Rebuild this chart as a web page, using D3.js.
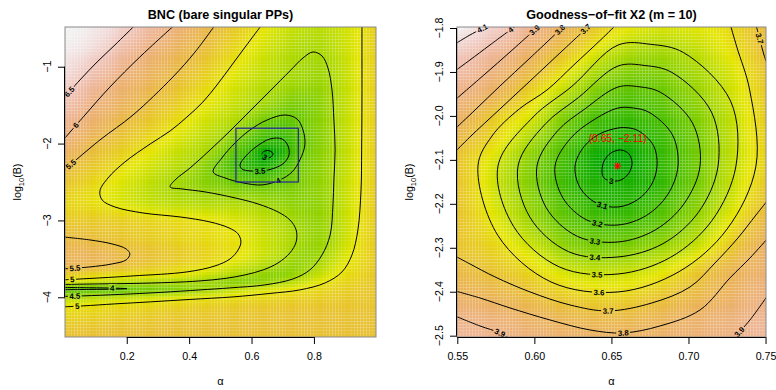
<!DOCTYPE html>
<html>
<head>
<meta charset="utf-8">
<script src="https://cdn.jsdelivr.net/npm/d3@7/dist/d3.min.js"></script>
<style>
  html, body { margin: 0; padding: 0; background: #ffffff; }
  svg { display: block; font-family: "Liberation Sans", Arial, Helvetica, sans-serif; }
</style>
</head>
<body>
<svg id="chart" width="776" height="390"></svg>
<script>
// ================= BNC (bare singular PPs) =================
// surface values: rows follow bncLogB, columns follow bncAlpha
const bncAlpha = [0.00, 0.05, 0.10, 0.15, 0.20, 0.25, 0.30, 0.35, 0.40, 0.45, 0.50,
                  0.55, 0.60, 0.65, 0.70, 0.75, 0.80, 0.85, 0.90, 0.95, 1.00];
const bncLogB = [-0.5, -0.75, -1.0, -1.25, -1.5, -1.75, -2.0, -2.125, -2.25, -2.5, -2.75,
                 -3.0, -3.25, -3.5, -3.6, -3.7, -3.8, -3.9, -4.0, -4.1, -4.25, -4.5];
const bncValues = [
  [6.95, 6.92, 6.85, 6.74, 6.57, 6.37, 6.18, 5.98, 5.79, 5.60, 5.42, 5.25, 5.09, 4.93, 4.80, 4.70, 4.64, 4.68, 4.80, 4.98, 5.22],
  [6.90, 6.84, 6.72, 6.52, 6.31, 6.11, 5.92, 5.76, 5.60, 5.44, 5.27, 5.11, 4.95, 4.80, 4.67, 4.57, 4.53, 4.60, 4.77, 4.98, 5.22],
  [6.80, 6.65, 6.47, 6.27, 6.05, 5.89, 5.73, 5.58, 5.43, 5.27, 5.11, 4.96, 4.82, 4.70, 4.58, 4.50, 4.45, 4.52, 4.72, 4.97, 5.22],
  [6.65, 6.43, 6.21, 6.00, 5.85, 5.70, 5.56, 5.41, 5.26, 5.11, 4.97, 4.83, 4.70, 4.59, 4.48, 4.40, 4.37, 4.48, 4.70, 4.96, 5.22],
  [6.42, 6.20, 5.98, 5.83, 5.67, 5.51, 5.37, 5.24, 5.10, 4.96, 4.83, 4.70, 4.55, 4.40, 4.20, 4.13, 4.22, 4.43, 4.69, 4.96, 5.22],
  [6.17, 5.96, 5.79, 5.61, 5.45, 5.32, 5.18, 5.05, 4.92, 4.78, 4.65, 4.51, 4.22, 3.95, 3.85, 3.98, 4.21, 4.42, 4.69, 4.96, 5.22],
  [5.93, 5.72, 5.51, 5.37, 5.24, 5.11, 4.98, 4.85, 4.72, 4.60, 4.41, 4.03, 3.72, 3.42, 3.40, 3.84, 4.16, 4.40, 4.68, 4.96, 5.22],
  [5.77, 5.60, 5.41, 5.27, 5.14, 5.00, 4.88, 4.75, 4.63, 4.51, 4.20, 3.84, 3.49, 2.95, 3.31, 3.89, 4.19, 4.42, 4.68, 4.96, 5.22],
  [5.62, 5.44, 5.31, 5.17, 5.03, 4.91, 4.79, 4.67, 4.55, 4.32, 4.01, 3.65, 3.35, 3.20, 3.57, 3.99, 4.21, 4.43, 4.68, 4.96, 5.22],
  [5.35, 5.23, 5.10, 4.98, 4.86, 4.75, 4.63, 4.52, 4.39, 4.27, 4.15, 4.02, 3.92, 3.92, 4.01, 4.16, 4.29, 4.45, 4.72, 4.99, 5.23],
  [5.15, 5.09, 5.02, 4.93, 4.84, 4.75, 4.68, 4.62, 4.58, 4.55, 4.53, 4.51, 4.47, 4.39, 4.32, 4.28, 4.30, 4.45, 4.72, 5.00, 5.24],
  [5.28, 5.27, 5.25, 5.22, 5.18, 5.14, 5.10, 5.06, 5.03, 4.98, 4.93, 4.86, 4.77, 4.66, 4.55, 4.42, 4.35, 4.47, 4.74, 5.01, 5.24],
  [5.52, 5.50, 5.45, 5.38, 5.32, 5.27, 5.22, 5.17, 5.12, 5.08, 5.04, 5.00, 4.87, 4.74, 4.62, 4.49, 4.38, 4.49, 4.76, 5.03, 5.25],
  [5.68, 5.68, 5.65, 5.58, 5.49, 5.42, 5.34, 5.27, 5.20, 5.13, 5.05, 4.95, 4.82, 4.68, 4.54, 4.38, 4.41, 4.63, 4.90, 5.08, 5.27],
  [5.58, 5.56, 5.52, 5.45, 5.37, 5.30, 5.22, 5.15, 5.08, 5.01, 4.90, 4.78, 4.66, 4.54, 4.42, 4.37, 4.50, 4.74, 4.97, 5.10, 5.28],
  [5.28, 5.22, 5.15, 5.09, 5.04, 5.02, 5.01, 4.98, 4.90, 4.81, 4.69, 4.57, 4.45, 4.33, 4.30, 4.42, 4.63, 4.85, 5.04, 5.14, 5.30],
  [4.85, 4.80, 4.74, 4.69, 4.64, 4.60, 4.57, 4.54, 4.51, 4.45, 4.35, 4.28, 4.30, 4.40, 4.53, 4.70, 4.87, 5.02, 5.12, 5.20, 5.32],
  [3.96, 3.96, 3.97, 3.98, 4.01, 4.08, 4.16, 4.25, 4.35, 4.45, 4.57, 4.70, 4.80, 4.87, 4.94, 5.00, 5.08, 5.15, 5.21, 5.26, 5.33],
  [4.55, 4.55, 4.60, 4.64, 4.69, 4.74, 4.80, 4.85, 4.90, 4.94, 4.98, 5.01, 5.05, 5.09, 5.13, 5.17, 5.20, 5.23, 5.26, 5.29, 5.33],
  [4.92, 4.95, 4.98, 5.01, 5.04, 5.07, 5.10, 5.13, 5.16, 5.18, 5.20, 5.22, 5.24, 5.26, 5.28, 5.29, 5.30, 5.31, 5.32, 5.33, 5.35],
  [5.15, 5.17, 5.19, 5.21, 5.23, 5.25, 5.27, 5.29, 5.30, 5.31, 5.32, 5.33, 5.34, 5.35, 5.36, 5.36, 5.37, 5.37, 5.37, 5.37, 5.38],
  [5.40, 5.41, 5.42, 5.42, 5.42, 5.42, 5.42, 5.42, 5.42, 5.42, 5.42, 5.42, 5.42, 5.42, 5.42, 5.41, 5.41, 5.40, 5.40, 5.40, 5.40]
];
// contour lines, [alpha, log10(B)] vertices
const bncContours = [
  { level: 6.5, closed: false, points: [[-0.005, -1.424], [0.050, -1.172], [0.105, -0.938], [0.162, -0.717], [0.224, -0.47]] },
  { level: 6, closed: false, points: [[-0.005, -1.96], [0.066, -1.628], [0.146, -1.264], [0.242, -0.873], [0.350, -0.47]] },
  { level: 5.5, closed: false, points: [[-0.005, -2.36], [0.114, -1.953], [0.220, -1.628], [0.348, -1.133], [0.419, -0.808], [0.481, -0.47]] },
  { level: 5.5, closed: false, points: [[-0.005, -3.215], [0.082, -3.254], [0.153, -3.306], [0.198, -3.371], [0.210, -3.436],
      [0.198, -3.514], [0.153, -3.566], [0.082, -3.605], [-0.005, -3.631]] },
  { level: 5, closed: false, points: [[-0.005, -3.774], [0.114, -3.748], [0.220, -3.722], [0.393, -3.670], [0.483, -3.592],
      [0.531, -3.501], [0.557, -3.384], [0.566, -3.280], [0.557, -3.176], [0.528, -3.098], [0.467, -3.020], [0.371, -2.955],
      [0.252, -2.903], [0.162, -2.825], [0.121, -2.734], [0.114, -2.616], [0.140, -2.447], [0.194, -2.239], [0.275, -2.005],
      [0.339, -1.836], [0.393, -1.654], [0.444, -1.459], [0.489, -1.238], [0.537, -0.977], [0.582, -0.730], [0.630, -0.47]] },
  { level: 5, closed: false, points: [[0.954, -0.47], [0.954, -0.912], [0.954, -1.433], [0.953, -2.083], [0.951, -2.603],
      [0.941, -3.124], [0.922, -3.449], [0.890, -3.670], [0.836, -3.813], [0.755, -3.904], [0.659, -3.950], [0.541, -3.995],
      [0.403, -4.028], [0.275, -4.060], [0.162, -4.086], [0.060, -4.112], [-0.005, -4.125]] },
  { level: 4.5, closed: false, points: [[-0.005, -3.833], [0.114, -3.826], [0.220, -3.820], [0.339, -3.807], [0.435, -3.787],
      [0.515, -3.755], [0.579, -3.709], [0.637, -3.644], [0.685, -3.553], [0.723, -3.423], [0.743, -3.280], [0.743, -3.124],
      [0.723, -2.994], [0.685, -2.890], [0.621, -2.786], [0.547, -2.707], [0.451, -2.629], [0.377, -2.590], [0.339, -2.564],
      [0.355, -2.473], [0.403, -2.317], [0.467, -2.083], [0.531, -1.836], [0.595, -1.576], [0.659, -1.316], [0.723, -1.055],
      [0.765, -0.886], [0.797, -0.808], [0.826, -0.860], [0.845, -1.016], [0.858, -1.303], [0.864, -1.693], [0.868, -2.083],
      [0.864, -2.473], [0.861, -2.799], [0.852, -3.189], [0.826, -3.449], [0.787, -3.644], [0.733, -3.761], [0.643, -3.839],
      [0.531, -3.878], [0.435, -3.904], [0.307, -3.937], [0.178, -3.963], [0.060, -3.982], [-0.005, -3.989]] },
  { level: 4, closed: false, points: [[-0.005, -3.872], [0.082, -3.876], [0.162, -3.881], [0.201, -3.888], [0.162, -3.894],
      [0.082, -3.898], [-0.005, -3.902]] },
  { level: 4, closed: true, points: [[0.477, -2.369], [0.505, -2.187], [0.547, -1.992], [0.595, -1.823], [0.650, -1.693],
      [0.707, -1.628], [0.746, -1.680], [0.765, -1.823], [0.771, -2.018], [0.755, -2.213], [0.730, -2.369], [0.691, -2.473],
      [0.634, -2.538], [0.573, -2.512], [0.515, -2.447]] },
  { level: 3.5, closed: true, points: [[0.563, -2.278], [0.582, -2.161], [0.614, -2.044], [0.659, -1.940], [0.698, -1.940],
      [0.717, -2.031], [0.720, -2.148], [0.704, -2.252], [0.675, -2.317], [0.634, -2.356], [0.595, -2.356], [0.569, -2.330]] },
  { level: 3, closed: true, points: [[0.634, -2.135], [0.643, -2.096], [0.659, -2.096], [0.669, -2.135], [0.662, -2.174], [0.646, -2.187]] }
];
const bncLabelSpots = [
  { level: 6.5, alpha: 0.023, logB: -1.355 },
  { level: 6,   alpha: 0.047, logB: -1.797 },
  { level: 5.5, alpha: 0.031, logB: -2.317 },
  { level: 3,   alpha: 0.648, logB: -2.148 },
  { level: 3.5, alpha: 0.627, logB: -2.337 },
  { level: 4,   alpha: 0.690, logB: -2.525 },
  { level: 5.5, alpha: 0.034, logB: -3.638 },
  { level: 5,   alpha: 0.025, logB: -3.781 },
  { level: 4,   alpha: 0.153, logB: -3.885 },
  { level: 4.5, alpha: 0.034, logB: -3.982 },
  { level: 5,   alpha: 0.041, logB: -4.125 }
];
const bncAlphaTicks = [0.2, 0.4, 0.6, 0.8];
const bncLogBTicks = [-4, -3, -2, -1];
const bncZoomAlpha = [0.55, 0.75];
const bncZoomLogB = [-2.5, -1.8];

// ================= Goodness-of-fit X2 (m = 10) =================
const fitAlpha = [0.55, 0.575, 0.60, 0.625, 0.65, 0.675, 0.70, 0.725, 0.75];
const fitLogB = [-1.8, -1.85, -1.9, -1.95, -2.0, -2.05, -2.1, -2.15, -2.2, -2.25, -2.3, -2.35, -2.4, -2.45, -2.5];
const fitValues = [
  [4.18, 4.07, 3.915, 3.76, 3.61, 3.54, 3.55, 3.60, 3.73],
  [4.07, 3.96, 3.82, 3.66, 3.50, 3.43, 3.47, 3.57, 3.71],
  [3.99, 3.87, 3.72, 3.54, 3.38, 3.33, 3.41, 3.52, 3.68],
  [3.91, 3.79, 3.61, 3.43, 3.26, 3.25, 3.36, 3.50, 3.66],
  [3.84, 3.66, 3.53, 3.29, 3.16, 3.18, 3.31, 3.47, 3.65],
  [3.75, 3.61, 3.42, 3.21, 3.07, 3.11, 3.27, 3.46, 3.64],
  [3.69, 3.53, 3.34, 3.13, 2.96, 3.08, 3.26, 3.46, 3.63],
  [3.69, 3.51, 3.32, 3.12, 3.05, 3.08, 3.26, 3.47, 3.66],
  [3.69, 3.53, 3.36, 3.18, 3.09, 3.15, 3.31, 3.50, 3.70],
  [3.69, 3.57, 3.41, 3.26, 3.20, 3.24, 3.38, 3.57, 3.76],
  [3.69, 3.62, 3.51, 3.36, 3.32, 3.38, 3.48, 3.65, 3.83],
  [3.74, 3.68, 3.60, 3.50, 3.48, 3.52, 3.63, 3.76, 3.85],
  [3.80, 3.76, 3.69, 3.62, 3.60, 3.64, 3.72, 3.80, 3.89],
  [3.89, 3.85, 3.79, 3.74, 3.72, 3.75, 3.81, 3.86, 3.93],
  [3.96, 3.92, 3.87, 3.84, 3.82, 3.83, 3.86, 3.90, 3.97]
];
const fitContours = [
  { level: 4.1, closed: false, points: [[0.5706, -1.7932], [0.5582, -1.8159], [0.5485, -1.8364]] },
  { level: 4.0, closed: false, points: [[0.5887, -1.7932], [0.5712, -1.8386], [0.5582, -1.8728], [0.5485, -1.8978]] },
  { level: 3.9, closed: false, points: [[0.6037, -1.7932], [0.5842, -1.8546], [0.5680, -1.9046], [0.5485, -1.9638]] },
  { level: 3.9, closed: false, points: [[0.5485, -2.4551], [0.5647, -2.4779], [0.5777, -2.4938], [0.5842, -2.5075]] },
  { level: 3.9, closed: false, points: [[0.7289, -2.5075], [0.7399, -2.4642], [0.7516, -2.4073]] },
  { level: 3.8, closed: false, points: [[0.6199, -1.7932], [0.5972, -1.8682], [0.5777, -1.9319], [0.5615, -1.9865], [0.5485, -2.0297]] },
  { level: 3.8, closed: false, points: [[0.5485, -2.3982], [0.5647, -2.4142], [0.5842, -2.4369], [0.6101, -2.4642], [0.6361, -2.4870],
      [0.6575, -2.4938], [0.6815, -2.4779], [0.7075, -2.4415], [0.7269, -2.3687], [0.7399, -2.3232], [0.7516, -2.2777]] },
  { level: 3.7, closed: false, points: [[0.6361, -1.7932], [0.6166, -1.8568], [0.5972, -1.9205], [0.5777, -1.9842], [0.5582, -2.0479], [0.5485, -2.0821]] },
  { level: 3.7, closed: false, points: [[0.7438, -1.7932], [0.7464, -1.8273], [0.7490, -1.8614], [0.7516, -1.8864]] },
  { level: 3.7, closed: false, points: [[0.5485, -2.3186], [0.5582, -2.3368], [0.5745, -2.3664], [0.5972, -2.4005], [0.6231, -2.4301],
      [0.6478, -2.4437], [0.6763, -2.4255], [0.7010, -2.3892], [0.7172, -2.3346], [0.7321, -2.2777], [0.7438, -2.2254], [0.7516, -2.1912]] },
  { level: 3.6, closed: false, points: [[0.6536, -1.7909], [0.6432, -1.8264], [0.6257, -1.8837], [0.6082, -1.9410], [0.5902, -1.9842],
      [0.5725, -2.0457], [0.5634, -2.1139], [0.5763, -2.2718], [0.6108, -2.3778], [0.6543, -2.4005], [0.6939, -2.3543],
      [0.7251, -2.2572], [0.7438, -2.1139], [0.7397, -1.9410], [0.7314, -1.8437], [0.7270, -1.7909]] },
  { level: 3.5, closed: true, points: [[0.7308, -2.1139], [0.7153, -2.2377], [0.6885, -2.3214], [0.6543, -2.3596], [0.6164, -2.3439],
      [0.5865, -2.2513], [0.5764, -2.1139], [0.5992, -2.0024], [0.6244, -1.9326], [0.6543, -1.8387], [0.6754, -1.8371],
      [0.6968, -1.8559], [0.7273, -1.9660]] },
  { level: 3.4, closed: true, points: [[0.7192, -2.1139], [0.7064, -2.2195], [0.6834, -2.2907], [0.6543, -2.3209], [0.6222, -2.3089],
      [0.5970, -2.2299], [0.5894, -2.1139], [0.6071, -2.0184], [0.6286, -1.9583], [0.6543, -1.8864], [0.6717, -1.8853],
      [0.6893, -1.9012], [0.7149, -1.9911]] },
  { level: 3.3, closed: true, points: [[0.7075, -2.1139], [0.6970, -2.2003], [0.6783, -2.2597], [0.6543, -2.2868], [0.6279, -2.2740],
      [0.6076, -2.2083], [0.6017, -2.1139], [0.6150, -2.0343], [0.6329, -1.9838], [0.6543, -1.9342], [0.6680, -1.9337],
      [0.6819, -1.9465], [0.7026, -2.0161]] },
  { level: 3.2, closed: true, points: [[0.6932, -2.1139], [0.6865, -2.1792], [0.6728, -2.2263], [0.6543, -2.2481], [0.6340, -2.2367],
      [0.6185, -2.1865], [0.6134, -2.1139], [0.6234, -2.0513], [0.6374, -2.0115], [0.6543, -1.9820], [0.6643, -1.9820],
      [0.6744, -1.9917], [0.6895, -2.0425]] },
  { level: 3.1, closed: true, points: [[0.6796, -2.1139], [0.6758, -2.1576], [0.6669, -2.1908], [0.6543, -2.2072], [0.6403, -2.1985],
      [0.6297, -2.1637], [0.6264, -2.1139], [0.6323, -2.0695], [0.6423, -2.0411], [0.6543, -2.0275], [0.6609, -2.0272],
      [0.6675, -2.0338], [0.6773, -2.0673]] },
  { level: 3.0, closed: true, points: [[0.6439, -2.1276], [0.6452, -2.1025], [0.6497, -2.0843], [0.6562, -2.0775], [0.6614, -2.0866],
      [0.6634, -2.1071], [0.6614, -2.1298], [0.6562, -2.1457], [0.6497, -2.1480], [0.6452, -2.1412]] }
];
const fitLabelSpots = [
  { level: 4.1, alpha: 0.5686, logB: -1.818 },
  { level: 4.0, alpha: 0.5868, logB: -1.814 },
  { level: 3.9, alpha: 0.6030, logB: -1.816 },
  { level: 3.8, alpha: 0.6192, logB: -1.814 },
  { level: 3.7, alpha: 0.6355, logB: -1.811 },
  { level: 3.7, alpha: 0.7471, logB: -1.823 },
  { level: 3.0, alpha: 0.6497, logB: -2.150 },
  { level: 3.1, alpha: 0.6439, logB: -2.207 },
  { level: 3.2, alpha: 0.6406, logB: -2.248 },
  { level: 3.3, alpha: 0.6393, logB: -2.287 },
  { level: 3.4, alpha: 0.6393, logB: -2.321 },
  { level: 3.5, alpha: 0.6406, logB: -2.360 },
  { level: 3.6, alpha: 0.6419, logB: -2.400 },
  { level: 3.7, alpha: 0.6478, logB: -2.444 },
  { level: 3.8, alpha: 0.6575, logB: -2.494 },
  { level: 3.9, alpha: 0.5777, logB: -2.494 },
  { level: 3.9, alpha: 0.7315, logB: -2.487 }
];
const fitAlphaTicks = [0.55, 0.60, 0.65, 0.70, 0.75];
const fitLogBTicks = [-2.5, -2.4, -2.3, -2.2, -2.1, -2.0, -1.9, -1.8];
const fitBest = [0.654, -2.114];

// ================= helpers =================
const svg = d3.select("#chart");
const defs = svg.append("defs");
const FONT = '"Liberation Sans", Arial, Helvetica, sans-serif';

// Piecewise cubic Hermite through (xs, ys), xs ascending
function hermite(xs, ys) {
  const n = xs.length, m = new Array(n);
  for (let i = 0; i < n; i++) {
    if (i === 0) m[i] = (ys[1] - ys[0]) / (xs[1] - xs[0]);
    else if (i === n - 1) m[i] = (ys[n - 1] - ys[n - 2]) / (xs[n - 1] - xs[n - 2]);
    else {
      const h0 = xs[i] - xs[i - 1], h1 = xs[i + 1] - xs[i];
      const d0 = (ys[i] - ys[i - 1]) / h0, d1 = (ys[i + 1] - ys[i]) / h1;
      m[i] = (d0 * h1 + d1 * h0) / (h0 + h1);
    }
  }
  return function (x) {
    if (x <= xs[0]) return ys[0];
    if (x >= xs[n - 1]) return ys[n - 1];
    let i = d3.bisectRight(xs, x) - 1;
    if (i > n - 2) i = n - 2;
    const h = xs[i + 1] - xs[i], t = (x - xs[i]) / h, t2 = t * t, t3 = t2 * t;
    return (2 * t3 - 3 * t2 + 1) * ys[i] + (t3 - 2 * t2 + t) * h * m[i]
         + (-2 * t3 + 3 * t2) * ys[i + 1] + (t3 - t2) * h * m[i + 1];
  };
}

// Evaluate the tabulated surface on qx × qy (index i + j * qx.length)
function sampleSurface(xNodes, yNodes, rows, qx, qy) {
  let xs = xNodes.slice(), ys = yNodes.slice(), Z = rows.map(r => r.slice());
  if (xs[0] > xs[xs.length - 1]) { xs.reverse(); Z.forEach(r => r.reverse()); }
  if (ys[0] > ys[ys.length - 1]) { ys.reverse(); Z.reverse(); }
  const along = Z.map(r => { const f = hermite(xs, r); return qx.map(f); });
  const nx = qx.length, ny = qy.length, out = new Float64Array(nx * ny);
  for (let i = 0; i < nx; i++) {
    const f = hermite(ys, along.map(r => r[i]));
    for (let j = 0; j < ny; j++) out[i + j * nx] = f(qy[j]);
  }
  return out;
}

function hsv(h, s, v) {
  const i = Math.floor(h * 6), f = h * 6 - i;
  const p = v * (1 - s), q = v * (1 - f * s), t = v * (1 - (1 - f) * s);
  let r, g, b;
  switch (((i % 6) + 6) % 6) {
    case 0: r = v; g = t; b = p; break;
    case 1: r = q; g = v; b = p; break;
    case 2: r = p; g = v; b = t; break;
    case 3: r = p; g = q; b = v; break;
    case 4: r = t; g = p; b = v; break;
    default: r = v; g = p; b = q;
  }
  return d3.rgb(r * 255, g * 255, b * 255).formatHex();
}
// Continuous terrain palette: green → yellow → tan → near white
function terrain(t) {
  t = Math.max(0, Math.min(1, t));
  if (t < 0.5) { const u = t / 0.5; return hsv((4 - 2 * u) / 12, 1, 0.65 + 0.25 * u); }
  const u = (t - 0.5) / 0.5;
  return hsv((2 / 12) * (1 - u), 1 - u, 0.9 + 0.05 * u);
}

const levelText = v => String(+v.toFixed(2));

function drawPanel(o) {
  const g = svg.append("g");
  const x = d3.scaleLinear().domain(o.xDomain).range([o.left, o.right]);
  const y = d3.scaleLinear().domain(o.yDomain).range([o.bottom, o.top]);
  const [xa, xb] = o.xDomain, [ya, yb] = o.yDomain;

  // image cells
  const nc = 100, nr = 100, dx = (xb - xa) / nc, dy = (yb - ya) / nr;
  const cx = d3.range(nc).map(i => xa + (i + 0.5) * dx);
  const cy = d3.range(nr).map(j => ya + (j + 0.5) * dy);
  const cz = sampleSurface(o.xNodes, o.yNodes, o.values, cx, cy);
  const [zmin, zmax] = d3.extent(cz);
  const cells = [];
  for (let j = 0; j < nr; j++) for (let i = 0; i < nc; i++) cells.push({ i, j, v: cz[i + j * nc] });
  g.append("g").selectAll("rect").data(cells).join("rect")
    .attr("x", d => x(xa + d.i * dx))
    .attr("y", d => y(ya + (d.j + 1) * dy))
    .attr("width", d => x(xa + (d.i + 1) * dx) - x(xa + d.i * dx))
    .attr("height", d => y(ya + d.j * dy) - y(ya + (d.j + 1) * dy))
    .attr("fill", d => terrain((d.v - zmin) / (zmax - zmin)));

  // contour lines
  const clipId = o.id + "-clip", maskId = o.id + "-mask";
  defs.append("clipPath").attr("id", clipId).append("rect")
    .attr("x", o.left).attr("y", o.top).attr("width", o.right - o.left).attr("height", o.bottom - o.top);
  const mask = defs.append("mask").attr("id", maskId).attr("maskUnits", "userSpaceOnUse")
    .attr("x", 0).attr("y", 0).attr("width", 776).attr("height", 390);
  mask.append("rect").attr("width", 776).attr("height", 390).attr("fill", "#fff");

  const openLine = d3.line().x(d => x(d[0])).y(d => y(d[1])).curve(d3.curveCatmullRom.alpha(0.5));
  const ringLine = d3.line().x(d => x(d[0])).y(d => y(d[1])).curve(d3.curveCatmullRomClosed.alpha(0.5));
  const lines = g.append("g").attr("clip-path", `url(#${clipId})`).append("g").attr("mask", `url(#${maskId})`);
  const paths = lines.selectAll("path").data(o.contours).join("path")
    .attr("d", d => (d.closed ? ringLine : openLine)(d.points))
    .attr("fill", "none").attr("stroke", "#000").attr("stroke-width", 1);

  // contour labels: snapped onto the line of their level, aligned with it
  const labelG = g.append("g");
  o.labels.forEach(l => {
    const ax = x(l.alpha), ay = y(l.logB);
    let best = null, bd = Infinity;
    paths.filter(d => Math.abs(d.level - l.level) < 1e-9).each(function () {
      const len = this.getTotalLength();
      for (let s = 0; s <= len; s += 0.5) {
        const p = this.getPointAtLength(s);
        const d2 = (p.x - ax) ** 2 + (p.y - ay) ** 2;
        if (d2 < bd) {
          bd = d2;
          const a = this.getPointAtLength(Math.max(0, s - 3)), b = this.getPointAtLength(Math.min(len, s + 3));
          best = { px: p.x, py: p.y, ang: Math.atan2(b.y - a.y, b.x - a.x) * 180 / Math.PI };
        }
      }
    });
    if (!best) return;
    let ang = best.ang;
    while (ang > 90) ang -= 180;
    while (ang <= -90) ang += 180;
    const tr = `translate(${best.px},${best.py}) rotate(${ang})`;
    const t = labelG.append("text").attr("transform", tr)
      .attr("text-anchor", "middle").attr("dy", "0.35em")
      .attr("font-size", 7.8).attr("font-weight", "bold").attr("font-family", FONT)
      .attr("fill", "#000").text(levelText(l.level));
    const w = t.node().getComputedTextLength() + 3;
    mask.append("rect").attr("transform", tr).attr("x", -w / 2).attr("y", -4)
      .attr("width", w).attr("height", 8).attr("fill", "#000");
  });

  // frame
  g.append("rect").attr("x", o.left).attr("y", o.top)
    .attr("width", o.right - o.left).attr("height", o.bottom - o.top)
    .attr("fill", "none").attr("stroke", "#8a8a8a").attr("stroke-width", 1);

  // x axis
  const xAx = g.append("g").attr("transform", `translate(0,${o.bottom})`)
    .call(d3.axisBottom(x).tickValues(o.xTicks).tickSize(7).tickPadding(8).tickFormat(o.xFmt));
  xAx.attr("font-size", null).attr("font-family", null);
  xAx.select(".domain").remove();
  xAx.append("line").attr("x1", x(o.xTicks[0])).attr("x2", x(o.xTicks[o.xTicks.length - 1]))
    .attr("y1", 0.5).attr("y2", 0.5).attr("stroke", "#000");
  xAx.selectAll(".tick line").attr("stroke", "#000");
  xAx.selectAll(".tick text").attr("font-size", 10.7).attr("font-family", FONT).attr("fill", "#000");

  // y axis, labels parallel to the axis
  const yAx = g.append("g").attr("transform", `translate(${o.left},0)`)
    .call(d3.axisLeft(y).tickValues(o.yTicks).tickSize(7).tickFormat(""));
  yAx.attr("font-size", null).attr("font-family", null);
  yAx.select(".domain").remove();
  yAx.append("line").attr("y1", y(o.yTicks[0])).attr("y2", y(o.yTicks[o.yTicks.length - 1]))
    .attr("x1", -0.5).attr("x2", -0.5).attr("stroke", "#000");
  yAx.selectAll(".tick line").attr("stroke", "#000");
  g.append("g").selectAll("text").data(o.yTicks).join("text")
    .attr("transform", d => `translate(${o.left - 14.5},${y(d)}) rotate(-90)`)
    .attr("text-anchor", "middle").attr("font-size", 10.7).attr("font-family", FONT)
    .attr("fill", "#000").text(o.yFmt);

  // titles
  const mid = (o.left + o.right) / 2;
  g.append("text").attr("x", mid).attr("y", 18.5).attr("text-anchor", "middle")
    .attr("font-size", 12.6).attr("font-weight", "bold").attr("font-family", FONT).text(o.title);
  g.append("text").attr("x", mid).attr("y", 385).attr("text-anchor", "middle")
    .attr("font-size", 11).attr("font-family", FONT).text("α");
  const yl = g.append("text")
    .attr("transform", `translate(${o.left - 44},${(o.top + o.bottom) / 2}) rotate(-90)`)
    .attr("text-anchor", "middle").attr("font-size", 10.7).attr("font-family", FONT);
  yl.append("tspan").text("log");
  yl.append("tspan").attr("font-size", 7.5).attr("dy", 2.5).text("10");
  yl.append("tspan").attr("dy", -2.5).text("(B)");

  return { g, x, y };
}

// ================= left panel =================
const left = drawPanel({
  id: "bnc", left: 65, right: 376, top: 27, bottom: 337,
  xDomain: [0.002, 0.999], yDomain: [-4.517, -0.483],
  xNodes: bncAlpha, yNodes: bncLogB, values: bncValues,
  contours: bncContours, labels: bncLabelSpots,
  xTicks: bncAlphaTicks, yTicks: bncLogBTicks,
  xFmt: d3.format(".1f"), yFmt: d3.format("d"),
  title: "BNC (bare singular PPs)"
});
left.g.append("rect")
  .attr("x", left.x(bncZoomAlpha[0])).attr("y", left.y(bncZoomLogB[1]))
  .attr("width", left.x(bncZoomAlpha[1]) - left.x(bncZoomAlpha[0]))
  .attr("height", left.y(bncZoomLogB[0]) - left.y(bncZoomLogB[1]))
  .attr("fill", "none").attr("stroke", "#25259a").attr("stroke-width", 1.2);

// ================= right panel =================
const right = drawPanel({
  id: "fit", left: 457, right: 766, top: 27, bottom: 337,
  xDomain: [0.5498, 0.7503], yDomain: [-2.503, -1.7977],
  xNodes: fitAlpha, yNodes: fitLogB, values: fitValues,
  contours: fitContours, labels: fitLabelSpots,
  xTicks: fitAlphaTicks, yTicks: fitLogBTicks,
  xFmt: d3.format(".2f"), yFmt: d3.format(".1f"),
  title: "Goodness−of−fit X2 (m = 10)"
});
const bx = right.x(fitBest[0]), by = right.y(fitBest[1]);
const star = right.g.append("g").attr("stroke", "#ff0000").attr("stroke-width", 1.1);
[[-3.6, 0, 3.6, 0], [0, -3.6, 0, 3.6], [-2.6, -2.6, 2.6, 2.6], [-2.6, 2.6, 2.6, -2.6]].forEach(s => {
  star.append("line").attr("x1", bx + s[0]).attr("y1", by + s[1]).attr("x2", bx + s[2]).attr("y2", by + s[3]);
});
right.g.append("text").attr("x", bx).attr("y", by - 24).attr("text-anchor", "middle")
  .attr("font-size", 10.3).attr("font-family", FONT).attr("fill", "#ff0000")
  .text(`(${d3.format(".2f")(fitBest[0])}, ${d3.format(".2f")(fitBest[1])})`);
</script>
</body>
</html>
